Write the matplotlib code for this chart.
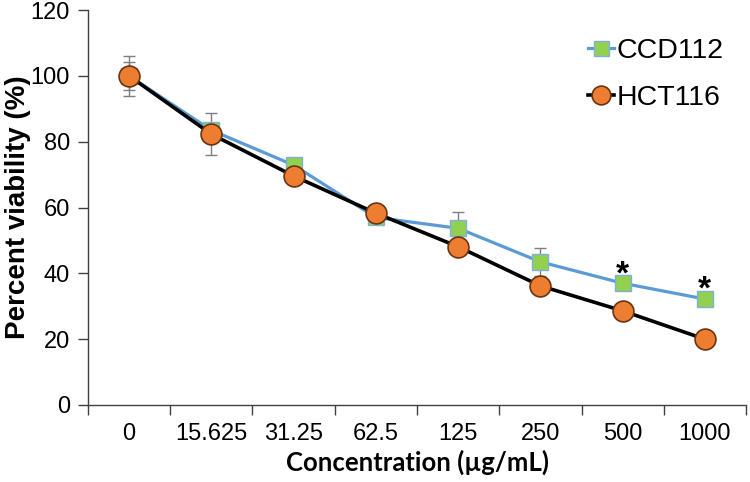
import matplotlib as mpl
mpl.use("Agg")
import matplotlib.pyplot as plt
import numpy as np

plt.rcParams['font.family'] = ['Liberation Sans', 'DejaVu Sans']

# data
concs = ["0", "15.625", "31.25", "62.5", "125", "250", "500", "1000"]
ccd112 = [100, 83.5, 72.9, 57.0, 53.7, 43.5, 37.0, 32.2]
ccd112_err = [6.0, 1.5, 1.5, 1.5, 5.0, 4.3, 1.5, 1.0]
hct116 = [100, 82.3, 69.6, 58.3, 48.1, 36.2, 28.6, 20.0]
hct116_err = [4.2, 6.4, 1.5, 1.5, 1.5, 1.5, 1.0, 1.0]
signif = ["500", "1000"]

x = np.arange(len(concs))

fig = plt.figure(figsize=(7.5, 4.82), dpi=100)
ax = fig.add_axes([0.1173, 0.1598, 0.8774, 0.8192])

# error bars first, below the markers
ax.errorbar(x, ccd112, yerr=ccd112_err, fmt='none', ecolor='#7f7f7f',
            elinewidth=1, capsize=4, capthick=1, zorder=2)
ax.errorbar(x, hct116, yerr=hct116_err, fmt='none', ecolor='#7f7f7f',
            elinewidth=1, capsize=4, capthick=1, zorder=2)

ax.plot(x, ccd112, color='#5b9bd5', lw=2.3, marker='s', ms=12,
        mfc='#92d050', mec='#7fb0dd', mew=1, label='CCD112', zorder=3)
ax.plot(x, hct116, color='black', lw=2.6, marker='o', ms=15,
        mfc='#ed7d31', mec='#6b3410', mew=1.2, label='HCT116', zorder=4)

for c in signif:
    i = concs.index(c)
    ax.annotate('*', (x[i], ccd112[i]), xytext=(0, -5), textcoords='offset points',
                ha='center', va='bottom', fontsize=24, fontweight='bold')

ax.set_xlim(-0.5, len(concs) - 0.5)
ax.set_ylim(0, 120)
ax.set_yticks(np.arange(0, 121, 20))

# category axis: ticks between categories, labels at centres
ax.set_xticks(np.arange(-0.5, len(concs), 1))
ax.set_xticklabels([])
ax.set_xticks(x, minor=True)
ax.set_xticklabels(concs, minor=True)
ax.tick_params(axis='x', which='major', direction='out', length=7, width=1, color='#404040')
ax.tick_params(axis='x', which='minor', length=0, pad=13, labelsize=17)
ax.tick_params(axis='y', direction='out', length=7, width=1, color='#404040', labelsize=17, pad=6)

for s in ['top', 'right']:
    ax.spines[s].set_visible(False)
for s in ['left', 'bottom']:
    ax.spines[s].set_color('#404040')
    ax.spines[s].set_linewidth(1)

ax.set_ylabel('Percent viability (%)', fontsize=20, fontweight='bold')
ax.yaxis.set_label_coords(-0.086, 0.5)
ax.set_xlabel('Concentration (\u00b5g/mL)', fontsize=18.5, fontweight='bold',
              family=['Lato', 'DejaVu Sans'], labelpad=3)

leg = ax.legend(loc='upper right', bbox_to_anchor=(1.005, 0.995), frameon=False,
                fontsize=20.5, handlelength=0.9, handletextpad=0.1, labelspacing=0.75,
                markerscale=0.9)

fig.savefig('out.png', dpi=100)
